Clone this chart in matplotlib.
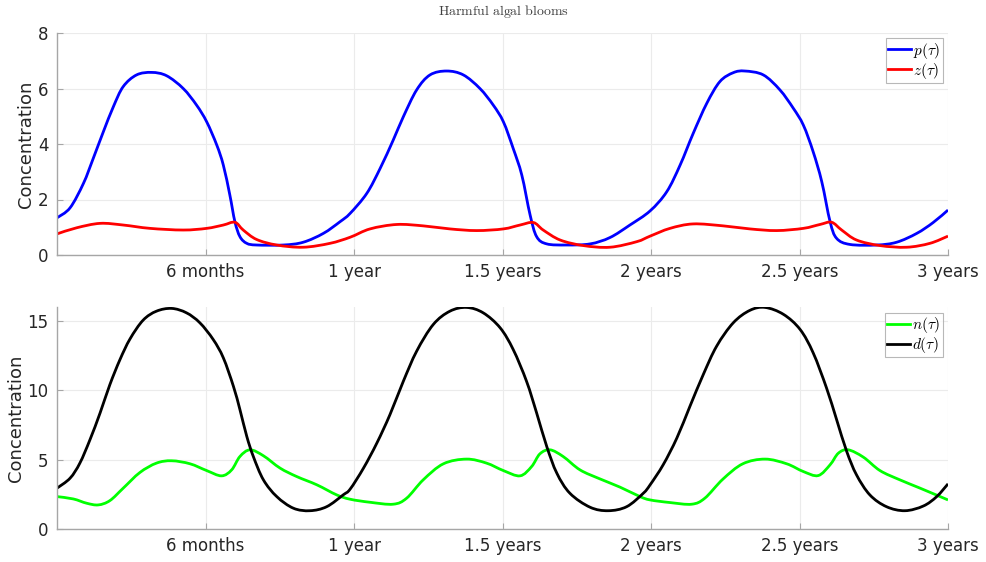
import matplotlib
matplotlib.use("Agg")
import matplotlib.pyplot as plt
from matplotlib.path import Path
from matplotlib.patches import PathPatch
from matplotlib.lines import Line2D

# ---------------- data ----------------
t_p = [0, 0.044, 0.089, 0.122, 0.156, 0.19, 0.223, 0.268, 0.319, 0.369, 0.425, 0.47, 0.504, 0.538, 0.56,
       0.582, 0.599, 0.616, 0.639, 0.672, 0.762, 0.829, 0.897, 0.953, 0.987, 1.043, 1.088, 1.132, 1.166,
       1.211, 1.256, 1.312, 1.368, 1.424, 1.469, 1.503, 1.536, 1.565, 1.593, 1.615, 1.649, 1.716, 1.795,
       1.862, 1.929, 1.997, 2.053, 2.098, 2.142, 2.188, 2.232, 2.277, 2.316, 2.378, 2.434, 2.479, 2.513,
       2.546, 2.575, 2.603, 2.625, 2.67, 2.76, 2.827, 2.895, 2.95, 3.0]
p_vals = [1.34, 1.70, 2.58, 3.48, 4.44, 5.35, 6.07, 6.49, 6.58, 6.46, 6.0, 5.4, 4.8, 3.96, 3.24,
          2.16, 1.2, 0.66, 0.42, 0.36, 0.36, 0.46, 0.78, 1.2, 1.5, 2.22, 3.12, 4.14, 4.98,
          5.95, 6.49, 6.63, 6.49, 6.0, 5.4, 4.8, 3.84, 2.88, 1.44, 0.66, 0.4, 0.36, 0.40,
          0.63, 1.08, 1.59, 2.28, 3.24, 4.38, 5.47, 6.25, 6.57, 6.63, 6.49, 5.95, 5.29, 4.68,
          3.72, 2.64, 1.2, 0.6, 0.38, 0.36, 0.46, 0.78, 1.17, 1.62]

t_z = [0, 0.066, 0.145, 0.223, 0.313, 0.425, 0.504, 0.56, 0.599, 0.627, 0.672, 0.74, 0.829, 0.919,
       0.987, 1.054, 1.144, 1.233, 1.323, 1.413, 1.503, 1.559, 1.604, 1.637, 1.694, 1.772, 1.862, 1.952,
       1.997, 2.064, 2.142, 2.243, 2.333, 2.423, 2.513, 2.569, 2.608, 2.642, 2.692, 2.771, 2.861, 2.939, 3.0]
z_vals = [0.76, 0.98, 1.14, 1.08, 0.96, 0.90, 0.96, 1.08, 1.18, 0.9, 0.56, 0.36, 0.28, 0.42,
          0.64, 0.94, 1.1, 1.05, 0.94, 0.88, 0.94, 1.08, 1.17, 0.9, 0.54, 0.34, 0.28, 0.48,
          0.68, 0.96, 1.12, 1.05, 0.94, 0.88, 0.96, 1.1, 1.18, 0.9, 0.54, 0.34, 0.28, 0.42, 0.68]

t_n = [0, 0.055, 0.1, 0.139, 0.178, 0.223, 0.279, 0.335, 0.386, 0.448, 0.504, 0.554, 0.588, 0.616, 0.65,
       0.695, 0.751, 0.807, 0.875, 0.942, 0.987, 1.054, 1.132, 1.177, 1.233, 1.301, 1.379, 1.446, 1.503,
       1.559, 1.598, 1.626, 1.66, 1.704, 1.761, 1.828, 1.896, 1.963, 1.997, 2.064, 2.137, 2.181, 2.242,
       2.309, 2.384, 2.457, 2.513, 2.563, 2.603, 2.631, 2.664, 2.715, 2.771, 2.838, 2.906, 3.0]
n_vals = [2.32, 2.15, 1.84, 1.72, 2.03, 2.93, 4.06, 4.74, 4.91, 4.69, 4.2, 3.82, 4.25, 5.22, 5.70,
          5.27, 4.38, 3.77, 3.17, 2.44, 2.13, 1.91, 1.77, 2.2, 3.53, 4.69, 5.03, 4.74, 4.2,
          3.82, 4.49, 5.41, 5.70, 5.22, 4.25, 3.6, 3.0, 2.32, 2.08, 1.89, 1.77, 2.2, 3.58,
          4.69, 5.03, 4.69, 4.13, 3.84, 4.62, 5.46, 5.70, 5.17, 4.2, 3.53, 2.93, 2.08]

t_d = [0, 0.044, 0.077, 0.111, 0.145, 0.178, 0.212, 0.246, 0.29, 0.335, 0.386, 0.436, 0.481, 0.526, 0.56,
       0.594, 0.616, 0.639, 0.661, 0.695, 0.74, 0.796, 0.852, 0.908, 0.964, 0.987, 1.032, 1.077, 1.121,
       1.166, 1.211, 1.267, 1.323, 1.379, 1.435, 1.492, 1.536, 1.581, 1.615, 1.649, 1.683, 1.727, 1.795,
       1.856, 1.918, 1.974, 1.997, 2.041, 2.087, 2.131, 2.176, 2.221, 2.277, 2.333, 2.384, 2.446, 2.502,
       2.546, 2.591, 2.625, 2.659, 2.692, 2.737, 2.793, 2.855, 2.917, 2.962, 3.0]
d_vals = [2.93, 3.65, 4.74, 6.43, 8.36, 10.41, 12.22, 13.72, 15.07, 15.72, 15.92, 15.6, 14.88, 13.67, 12.35,
          10.29, 8.6, 6.67, 5.22, 3.53, 2.32, 1.48, 1.30, 1.59, 2.45, 2.86, 4.38, 6.19, 8.24,
          10.65, 12.83, 14.76, 15.72, 15.99, 15.6, 14.52, 12.95, 10.65, 8.36, 5.94, 4.01, 2.56, 1.55,
          1.30, 1.59, 2.56, 3.17, 4.62, 6.55, 8.84, 11.14, 13.19, 14.88, 15.78, 15.99, 15.49, 14.4,
          12.71, 10.17, 7.88, 5.58, 3.89, 2.44, 1.59, 1.30, 1.64, 2.32, 3.24]

x_ticks = [0.5, 1.0, 1.5, 2.0, 2.5, 3.0]
x_tick_labels = ["6 months", "1 year", "1.5 years", "2 years", "2.5 years", "3 years"]
y_ticks_top = [0, 2, 4, 6, 8]
y_ticks_bot = [0, 5, 10, 15]
title_text = "Harmful algal blooms"
ylabel_text = "Concentration"

# ---------------- style ----------------
plt.rcParams["font.family"] = ["DejaVu Sans"]
plt.rcParams["mathtext.fontset"] = "cm"

fig = plt.figure(figsize=(9.86, 5.62), dpi=100)
ax1 = fig.add_axes([57 / 986, 1 - 255 / 562, (948 - 57) / 986, (255 - 33) / 562])
ax2 = fig.add_axes([57 / 986, 1 - 528.7 / 562, (948 - 57) / 986, (528.7 - 307.3) / 562])

TXT = "#262626"
AXC = "#a6a6a6"
GRID = "#ebebeb"
LW = 2.0


def style(ax, yticks, ylim):
    ax.set_xlim(0, 3)
    ax.set_ylim(*ylim)
    ax.set_xticks(x_ticks)
    ax.set_xticklabels(x_tick_labels)
    ax.set_yticks(yticks)
    ax.grid(True, color=GRID, linewidth=0.8)
    ax.set_axisbelow(True)
    for s in ["top", "right"]:
        ax.spines[s].set_visible(False)
    for s in ["left", "bottom"]:
        ax.spines[s].set_color(AXC)
        ax.spines[s].set_linewidth(1.0)
    ax.tick_params(direction="in", length=4, width=0.8, color=AXC,
                   labelcolor=TXT, labelsize=12, pad=6)
    ax.set_ylabel(ylabel_text, fontsize=13, color=TXT, labelpad=2)


def smooth_line(ax, xs, ys, color):
    """Draw the read points as one smooth curve (Catmull-Rom rendered as Bezier path)."""
    n = len(xs)
    verts = [(xs[0], ys[0])]
    codes = [Path.MOVETO]
    for i in range(n - 1):
        i0 = max(i - 1, 0)
        i3 = min(i + 2, n - 1)
        c1 = (xs[i] + (xs[i + 1] - xs[i0]) / 6.0, ys[i] + (ys[i + 1] - ys[i0]) / 6.0)
        c2 = (xs[i + 1] - (xs[i3] - xs[i]) / 6.0, ys[i + 1] - (ys[i3] - ys[i]) / 6.0)
        verts += [c1, c2, (xs[i + 1], ys[i + 1])]
        codes += [Path.CURVE4] * 3
    patch = PathPatch(Path(verts, codes), facecolor="none", edgecolor=color, lw=LW,
                      joinstyle="round", capstyle="butt", clip_on=True)
    ax.add_patch(patch)
    return Line2D([], [], color=color, lw=LW)


style(ax1, y_ticks_top, (0, 8))
style(ax2, y_ticks_bot, (0, 16))

h_p = smooth_line(ax1, t_p, p_vals, (0, 0, 1))
h_z = smooth_line(ax1, t_z, z_vals, (1, 0, 0))
h_n = smooth_line(ax2, t_n, n_vals, (0, 1, 0))
h_d = smooth_line(ax2, t_d, d_vals, (0, 0, 0))

for ax, hs, labs in ((ax1, [h_p, h_z], [r"$p(\tau)$", r"$z(\tau)$"]),
                     (ax2, [h_n, h_d], [r"$n(\tau)$", r"$d(\tau)$"])):
    leg = ax.legend(hs, labs, loc="upper right", fontsize=11, frameon=True, fancybox=False,
                    handlelength=1.5, handletextpad=0.15, borderpad=0.15, labelspacing=0.0,
                    borderaxespad=0.35)
    leg.get_frame().set_edgecolor(AXC)
    leg.get_frame().set_linewidth(0.8)

fig.text(503 / 986, 1 - 12 / 562, r"$\mathrm{Harmful\ algal\ blooms}$", ha="center", va="center",
         fontsize=10, color="#404040")

fig.savefig("out.png", dpi=100)
